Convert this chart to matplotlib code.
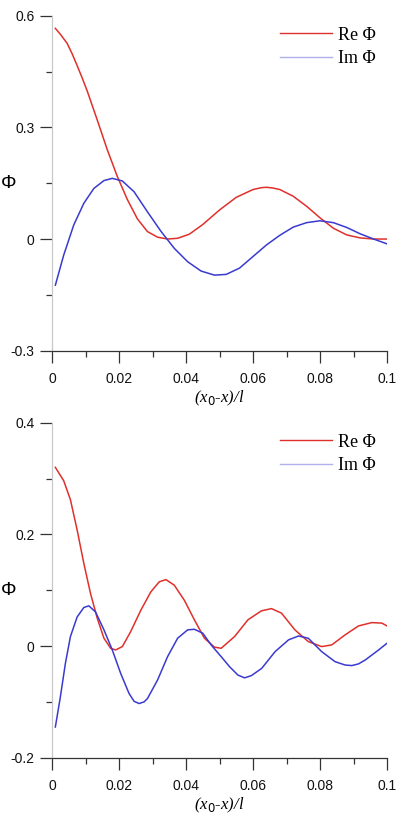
import numpy as np
import matplotlib
matplotlib.use("Agg")
import matplotlib.pyplot as plt
from matplotlib.lines import Line2D
from matplotlib.ticker import MultipleLocator

# ---------------------------------------------------------
# DATA
# ---------------------------------------------------------
# top panel
x_re_top = [0.001, 0.0025, 0.0045, 0.006, 0.0075, 0.009, 0.0105, 0.0135, 0.0165, 0.0195,
            0.0225, 0.0255, 0.0285, 0.0315, 0.0345, 0.0375, 0.041, 0.045, 0.05,
            0.055, 0.06, 0.0625, 0.064, 0.066, 0.068, 0.072, 0.076, 0.08, 0.084,
            0.088, 0.092, 0.096, 0.1]
re_top = [0.566, 0.550, 0.526, 0.498, 0.466, 0.433, 0.398, 0.320, 0.240, 0.168,
          0.106, 0.054, 0.020, 0.005, 0.000, 0.002, 0.013, 0.039, 0.078,
          0.112, 0.133, 0.138, 0.139, 0.137, 0.133, 0.115, 0.088, 0.057, 0.029,
          0.011, 0.003, 0.000, 0.000]
x_im_top = [0.001, 0.0035, 0.0065, 0.0095, 0.0125, 0.0155, 0.018, 0.021, 0.0245,
            0.0285, 0.0325, 0.0365, 0.0405, 0.0445, 0.0485, 0.052, 0.056, 0.06,
            0.064, 0.068, 0.072, 0.076, 0.08, 0.084, 0.088, 0.092, 0.096, 0.1]
im_top = [-0.124, -0.043, 0.038, 0.096, 0.136, 0.157, 0.163, 0.156, 0.127,
          0.073, 0.021, -0.025, -0.061, -0.086, -0.097, -0.095, -0.078, -0.047,
          -0.016, 0.010, 0.032, 0.044, 0.049, 0.044, 0.031, 0.014, 0.000, -0.013]

# bottom panel
x_re_bot = [0.001, 0.0035, 0.0055, 0.0075, 0.0095, 0.0115, 0.0135, 0.0155, 0.0175,
            0.019, 0.021, 0.0235, 0.0265, 0.0295, 0.032, 0.034, 0.0365, 0.0395,
            0.0425, 0.0455, 0.0485, 0.0505, 0.0545, 0.0585, 0.0625, 0.0655, 0.0685,
            0.0725, 0.0765, 0.0805, 0.0835, 0.0875, 0.0915, 0.0955, 0.0985, 0.1]
re_bot = [0.320, 0.296, 0.262, 0.208, 0.148, 0.094, 0.050, 0.014, -0.004,
          -0.007, -0.001, 0.026, 0.064, 0.097, 0.115, 0.119, 0.109, 0.082,
          0.047, 0.014, -0.002, -0.004, 0.017, 0.047, 0.063, 0.067, 0.059,
          0.029, 0.008, -0.001, 0.002, 0.020, 0.036, 0.042, 0.041, 0.036]
x_im_bot = [0.001, 0.0025, 0.004, 0.0055, 0.0075, 0.0095, 0.011, 0.013, 0.0155,
            0.018, 0.0205, 0.023, 0.0245, 0.026, 0.0275, 0.0285, 0.0315, 0.0345,
            0.0375, 0.0405, 0.0425, 0.045, 0.0475, 0.0505, 0.053, 0.0555, 0.0575,
            0.0595, 0.0626, 0.0666, 0.0706, 0.0736, 0.0765, 0.0805, 0.0845, 0.0875,
            0.0895, 0.0915, 0.0935, 0.0975, 0.1]
im_bot = [-0.145, -0.091, -0.031, 0.017, 0.052, 0.069, 0.072, 0.061, 0.029,
          -0.007, -0.049, -0.085, -0.099, -0.103, -0.100, -0.094, -0.061, -0.019,
          0.014, 0.029, 0.030, 0.023, 0.002, -0.019, -0.037, -0.052, -0.057,
          -0.053, -0.040, -0.010, 0.011, 0.018, 0.014, -0.010, -0.028, -0.034,
          -0.035, -0.032, -0.025, -0.007, 0.005]

y_ticks_top = [-0.3, 0, 0.3, 0.6]
y_ticks_bot = [-0.2, 0, 0.2, 0.4]
x_ticks = [0, 0.02, 0.04, 0.06, 0.08, 0.1]
x_tick_labels = ["0", "0.02", "0.04", "0.06", "0.08", "0.1"]
legend_labels = ["Re Φ", "Im Φ"]

RE_COLOR = "#e0302c"
IM_COLOR = "#3a3ad0"
IM_LEGEND = "#b0b0ec"

plt.rcParams['font.family'] = ['Liberation Sans', 'DejaVu Sans']

fig = plt.figure(figsize=(3.97, 8.16), dpi=100)
ax_top = fig.add_axes([52 / 397, 1 - 350.7 / 816, 335 / 397, 335 / 816])
ax_bot = fig.add_axes([52 / 397, 1 - 757.7 / 816, 335 / 397, 335 / 816])


def style_panel(ax, xr, re, xi, im, yticks, ylim, minor_y):
    ax.plot(xr, re, color=RE_COLOR, lw=1.1, solid_joinstyle="round")
    ax.plot(xi, im, color=IM_COLOR, lw=1.1, solid_joinstyle="round")
    ax.set_xlim(0, 0.1)
    ax.set_ylim(*ylim)
    ax.set_xticks(x_ticks)
    ax.set_xticklabels(x_tick_labels)
    ax.set_yticks(yticks)
    ax.set_yticklabels([("%g" % t) for t in yticks])
    ax.xaxis.set_minor_locator(MultipleLocator(0.01))
    ax.yaxis.set_minor_locator(MultipleLocator(minor_y))
    for s in ["top", "right"]:
        ax.spines[s].set_visible(False)
    ax.spines["left"].set_color("#c8c8c8")
    ax.spines["bottom"].set_color("#333333")
    ax.spines["left"].set_linewidth(0.9)
    ax.spines["bottom"].set_linewidth(0.9)
    ax.tick_params(which="major", direction="out", length=8.5, width=0.9,
                   color="#333333", labelsize=10, labelcolor="#111111")
    ax.tick_params(which="minor", direction="out", length=4.5, width=0.9,
                   color="#333333")
    ax.tick_params(axis="x", which="major", pad=7)
    ax.tick_params(axis="y", which="major", pad=4)
    ax.set_xlabel("(x$_0$-x)/l", family="Liberation Serif", style="italic",
                  fontsize=12, labelpad=2)
    ax.set_ylabel("Φ", rotation=0, fontsize=14, va="center", ha="center")
    ax.yaxis.set_label_coords(-0.128, 0.5)
    handles = [Line2D([], [], color=RE_COLOR, lw=1.0),
               Line2D([], [], color=IM_LEGEND, lw=1.0)]
    ax.legend(handles, legend_labels, loc="upper right", frameon=False,
              prop={"family": "Liberation Serif", "size": 13},
              handlelength=2.9, handletextpad=0.35, labelspacing=0.35,
              borderaxespad=0.2, bbox_to_anchor=(1.0, 1.0))


style_panel(ax_top, x_re_top, re_top, x_im_top, im_top, y_ticks_top, (-0.3, 0.6), 0.15)
style_panel(ax_bot, x_re_bot, re_bot, x_im_bot, im_bot, y_ticks_bot, (-0.2, 0.4), 0.1)

fig.savefig("out.png", dpi=100)
